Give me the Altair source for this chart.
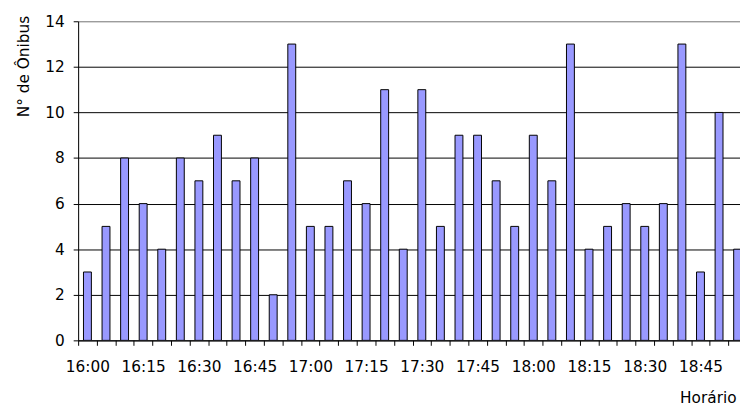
import altair as alt
import pandas as pd

times = ["16:00", "16:05", "16:10", "16:15", "16:20", "16:25", "16:30", "16:35", "16:40",
         "16:45", "16:50", "16:55", "17:00", "17:05", "17:10", "17:15", "17:20", "17:25",
         "17:30", "17:35", "17:40", "17:45", "17:50", "17:55", "18:00", "18:05", "18:10",
         "18:15", "18:20", "18:25", "18:30", "18:35", "18:40", "18:45", "18:50", "18:55"]
counts = [3, 5, 8, 6, 4, 8, 7, 9, 7, 8, 2, 13, 5, 5, 7, 6, 11, 4,
          11, 5, 9, 9, 7, 5, 9, 7, 13, 4, 5, 6, 5, 6, 13, 3, 10, 4]
label_times = ["16:00", "16:15", "16:30", "16:45", "17:00", "17:15", "17:30",
               "17:45", "18:00", "18:15", "18:30", "18:45"]
y_ticks = [0, 2, 4, 6, 8, 10, 12, 14]

df = pd.DataFrame({"hora": times, "n": counts})

FONT = "DejaVu Sans"
half = 677 / len(times) / 2
label_list = "[" + ",".join("'" + t + "'" for t in label_times) + "]"

chart = alt.Chart(df).mark_bar(
    size=8, fill="#9999FF", stroke="#000000", strokeWidth=1, clip=True
).encode(
    x=alt.X(
        "hora:N", sort=times,
        scale=alt.Scale(range=[0, 677], paddingInner=0, paddingOuter=0),
        axis=alt.Axis(
            title="Horário", labelAngle=0, grid=False,
            ticks=True, tickOffset=-half, labelOffset=half,
            labelExpr="indexof(" + label_list + ", datum.value) >= 0 ? datum.label : ''",
            labelOverlap=False, labelPadding=15, tickSize=5, tickWidth=1,
            tickColor="#000000", domainColor="#000000", domainWidth=1,
            labelFont=FONT, labelFontSize=15.5, labelColor="#000000",
            titleFont=FONT, titleFontSize=15.5, titleFontWeight="normal", titleColor="#000000",
            titleX=666, titleY=63, titleAlign="right", titleBaseline="alphabetic",
        ),
    ),
    y=alt.Y(
        "n:Q", scale=alt.Scale(domain=[0, 14], nice=False),
        axis=alt.Axis(
            title="N° de Ônibus", values=y_ticks, grid=True,
            gridColor={"condition": {"test": "datum.value === 14", "value": "#808080"},
                       "value": "#000000"},
            gridWidth=1, ticks=True, tickSize=5, tickWidth=1, labelPadding=9,
            tickColor="#000000", domainColor="#000000", domainWidth=1,
            labelFont=FONT, labelFontSize=15.5, labelColor="#000000",
            titleFont=FONT, titleFontSize=15.5, titleFontWeight="normal", titleColor="#000000",
            titleAngle=270, titleX=-50, titleY=-6, titleAlign="right", titleBaseline="alphabetic",
        ),
    ),
).properties(
    width=670, height=323,
    autosize=alt.AutoSizeParams(type="none"),
    padding={"left": 71, "top": 11, "right": 0, "bottom": 64},
).configure_view(
    fill="#FFFF99", stroke="#808080", strokeWidth=1
).configure(background="#FFFFFF")

chart.save("out.html", embed_options={"renderer": "svg", "actions": False})
